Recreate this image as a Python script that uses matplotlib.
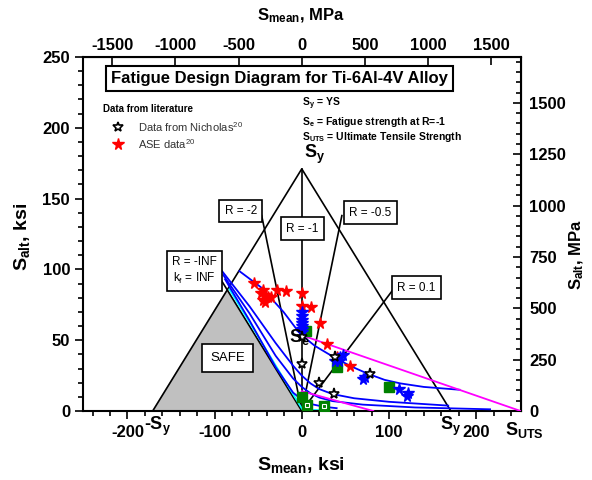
import matplotlib.pyplot as plt
from matplotlib.ticker import MultipleLocator

plt.rcParams['font.family'] = ['Liberation Sans', 'DejaVu Sans']
plt.rcParams['mathtext.fontset'] = 'custom'
plt.rcParams['mathtext.rm'] = 'Liberation Sans'
plt.rcParams['mathtext.bf'] = 'Liberation Sans:bold'
plt.rcParams['mathtext.it'] = 'Liberation Sans:italic'
plt.rcParams['axes.unicode_minus'] = False

KSI_TO_MPA = 6.894757

# material values (ksi)
S_Y = 171
S_UTS = 251
S_E = 53.5

# ASE data (red stars)
ase_mean = [-54.4, -47, -44.7, -42.9, -44, -42, -39, -35.2, -28.7, -18, 0, 0, 10.3, 21, 28.7, 40.8, 55.4]
ase_alt = [90.4, 83, 85.2, 82.2, 78.7, 77, 80.5, 80.5, 85.7, 84.7, 83.3, 74.4, 73.5, 61.8, 47, 38.2, 31.7]

# blue stars
blue_mean = [0, 0, 0, 0, 0, 0, 0, 38.2, 43.9, 47.7, 43.1, 72.6, 70.6, 112, 122.2, 121.1]
blue_alt = [70, 67, 64, 62, 60, 58, 56, 35.5, 38.2, 39.4, 35.4, 23.7, 22.3, 15.3, 12.5, 10.6]

# Nicholas data (open black stars)
nich_mean = [0, 0, 20.2, 37.2, 38.2, 78.3]
nich_alt = [52, 33.1, 19.5, 11.9, 38.2, 26.1]

# green squares
green_mean = [4.9, 40.1, 100.5, 0]
green_alt = [56.5, 31.2, 16.7, 10]
green_open_mean = [6.5, 25.6]
green_open_alt = [4.2, 3.5]

# blue curves
curve_a_mean = [-71.6, -46, -21, -5, 0, 15, 30, 40, 55, 75, 95, 113, 140, 181]
curve_a_alt = [98.8, 87, 70, 57, 53.5, 46, 40.5, 37, 32, 26.5, 22, 19.5, 17, 15]
curve_b_mean = [-91.7, -60, -30, -10, 0, 10, 20, 35, 60, 100, 168]
curve_b_alt = [99, 74, 48, 32, 25, 19.5, 15.5, 12, 9, 6.5, 3.8]
curve_c_mean = [-90, -60, -30, -10, 0, 10, 20, 35, 70, 130, 216]
curve_c_alt = [96, 69, 39, 23, 17, 12.5, 9.5, 7, 4.5, 2.5, 1.2]
curve_d_mean = [-88, -60, -30, -10, 0, 10, 25, 40]
curve_d_alt = [93, 64, 31, 13, 8, 5, 3, 2]

# magenta Goodman lines
goodman_hi_mean = [0, S_UTS]
goodman_hi_alt = [S_E, 0]
goodman_lo_mean = [0, 82]
goodman_lo_alt = [14, 0]

# cyan line
cyan_mean = [-83, 1, 32]
cyan_alt = [86, 0.8, 0.6]

fig = plt.figure(figsize=(5.92, 4.8), dpi=100)
ax = fig.add_axes([0.1394, 0.14375, 0.7407, 0.7375])
ax.set_xlim(-251.5, 251.5)
ax.set_ylim(0, 250)

# safe region
ax.fill([-S_Y, -S_Y / 2, 0], [0, S_Y / 2, 0], color='#c0c0c0', zorder=1)

# yield triangle and R lines
ax.plot([-S_Y, 0, S_Y], [0, S_Y, 0], color='black', lw=1.2, zorder=2)
ax.plot([0, 0], [0, S_Y], color='black', lw=1.2, zorder=2)
ax.plot([0, -46], [0, 138], color='black', lw=1.2, zorder=2)
ax.plot([0, 46], [0, 138], color='black', lw=1.2, zorder=2)
ax.plot([0, 108], [0, 88.4], color='black', lw=1.2, zorder=2)
ax.plot([0, -95], [0, 95], color='black', lw=1.2, zorder=2)
ax.plot(cyan_mean, cyan_alt, color='cyan', lw=1.3, zorder=2)

for xs, ys in [(curve_a_mean, curve_a_alt), (curve_b_mean, curve_b_alt),
               (curve_c_mean, curve_c_alt), (curve_d_mean, curve_d_alt)]:
    ax.plot(xs, ys, color='#0000ff', lw=1.3, zorder=3)
ax.plot(goodman_hi_mean, goodman_hi_alt, color='#ff00ff', lw=1.3, zorder=3)
ax.plot(goodman_lo_mean, goodman_lo_alt, color='#ff00ff', lw=1.3, zorder=3)

# data points
ax.plot(green_mean, green_alt, 's', color='#008000', ms=6.5, zorder=4)
ax.plot(green_open_mean, green_open_alt, 's', color='#008000', ms=6.5, zorder=4)
ax.plot(green_open_mean, green_open_alt, 's', mfc='none', mec='white', ms=3.2, mew=0.8, zorder=4)
ax.plot(ase_mean, ase_alt, '*', color='red', ms=8.5, zorder=5)
ax.plot(blue_mean, blue_alt, '*', color='#0000ff', ms=8.5, zorder=5)
ax.plot(nich_mean, nich_alt, '*', mfc='white', mec='black', mew=1.2, ms=8, zorder=6)

# labels in the plot
box = dict(boxstyle='square,pad=0.45', fc='white', ec='black', lw=1.2)
ax.text(-26, 234.9, 'Fatigue Design Diagram for Ti-6Al-4V Alloy', ha='center', va='center',
        fontsize=12, fontweight='bold', bbox=dict(boxstyle='square,pad=0.3', fc='white', ec='black', lw=1.5), zorder=7)
ax.text(-69.8, 141.3, 'R = -2', ha='center', va='center', fontsize=8.5, bbox=box, zorder=7)
ax.text(0.5, 128.7, 'R = -1', ha='center', va='center', fontsize=8.5, bbox=box, zorder=7)
ax.text(78.9, 140.1, 'R = -0.5', ha='center', va='center', fontsize=8.5, bbox=box, zorder=7)
ax.text(131.4, 87, 'R = 0.1', ha='center', va='center', fontsize=8.5, bbox=box, zorder=7)
ax.text(-123, 99, 'R = -INF\nk$_\\mathrm{f}$ = INF', ha='center', va='center', fontsize=8.5,
        linespacing=1.3, bbox=box, zorder=7)
ax.text(-85.3, 37.7, 'SAFE', ha='center', va='center', fontsize=9.5,
        bbox=dict(boxstyle='square,pad=0.6', fc='white', ec='black', lw=1.2), zorder=7)
ax.text(3, S_Y + 2, r'$\mathbf{S_y}$', ha='left', va='bottom', fontsize=13, zorder=7)
ax.text(-3, 52, r'$\mathbf{S_e}$', ha='center', va='center', fontsize=13, zorder=7)

# legend-like text
ax.text(-228, 213.4, 'Data from literature', ha='left', va='center', fontsize=7, fontweight='bold')
ax.plot([-210.6], [200.7], '*', mfc='white', mec='black', mew=1.2, ms=7.5)
ax.plot([-210.6], [188.7], '*', color='red', ms=8.5)
ax.text(-187.7, 200.7, 'Data from Nicholas$^{20}$', ha='left', va='center', fontsize=8, color='#333333')
ax.text(-187.7, 188.7, 'ASE data$^{20}$', ha='left', va='center', fontsize=8, color='#333333')
ax.text(0.3, 216.9, r'$\mathbf{S_y}$ = YS', ha='left', va='center', fontsize=7.5, fontweight='bold')
ax.text(0.3, 204.2, r'$\mathbf{S_e}$ = Fatigue strength at R=-1', ha='left', va='center', fontsize=7.5, fontweight='bold')
ax.text(0.3, 193.7, r'$\mathbf{S_{UTS}}$ = Ultimate Tensile Strength', ha='left', va='center', fontsize=7.5, fontweight='bold')

# axis-point labels below x axis
ax.text(-165, -3, r'-$\mathbf{S_y}$', ha='center', va='top', fontsize=13, fontweight='bold', clip_on=False)
ax.text(S_Y, -3, r'$\mathbf{S_y}$', ha='center', va='top', fontsize=13, clip_on=False)
ax.text(S_UTS + 4, -6.5, r'$\mathbf{S_{UTS}}$', ha='center', va='top', fontsize=13, clip_on=False)

# ticks
ax.set_xticks([-200, -100, 0, 100, 200])
ax.xaxis.set_minor_locator(MultipleLocator(20))
ax.set_yticks([0, 50, 100, 150, 200, 250])
ax.yaxis.set_minor_locator(MultipleLocator(10))
ax.tick_params(which='both', direction='out', width=1.2, labelsize=12, top=False, right=False)
ax.tick_params(which='major', length=6)
ax.tick_params(which='minor', length=3.5)
ax.tick_params(axis='x', pad=4)
ax.tick_params(axis='y', pad=3)
for lbl in ax.get_xticklabels() + ax.get_yticklabels():
    lbl.set_fontweight('bold')
for sp in ax.spines.values():
    sp.set_linewidth(1.5)

secx = ax.secondary_xaxis('top', functions=(lambda v: v * KSI_TO_MPA, lambda v: v / KSI_TO_MPA))
secx.set_xticks([-1500, -1000, -500, 0, 500, 1000, 1500])
secx.tick_params(direction='in', length=6, width=1.2, labelsize=12, pad=3)
for lbl in secx.get_xticklabels():
    lbl.set_fontweight('bold')

secy = ax.secondary_yaxis('right', functions=(lambda v: v * KSI_TO_MPA, lambda v: v / KSI_TO_MPA))
secy.set_yticks([0, 250, 500, 750, 1000, 1250, 1500])
secy.yaxis.set_minor_locator(MultipleLocator(50))
secy.tick_params(which='both', direction='in', width=1.2, labelsize=12, pad=6)
secy.tick_params(which='major', length=6)
secy.tick_params(which='minor', length=3.5)
for lbl in secy.get_yticklabels():
    lbl.set_fontweight('bold')

# axis titles
fig.text(301 / 592, 1 - 465 / 480, r'$\mathbf{S_{mean}}$, ksi', ha='center', va='center', fontsize=14, fontweight='bold')
fig.text(301 / 592, 1 - 16 / 480, r'$\mathbf{S_{mean}}$, MPa', ha='center', va='center', fontsize=12, fontweight='bold')
fig.text(22 / 592, 1 - 237 / 480, r'$\mathbf{S_{alt}}$, ksi', ha='center', va='center', rotation=90, fontsize=14, fontweight='bold')
fig.text(577 / 592, 1 - 255 / 480, r'$\mathbf{S_{alt}}$, MPa', ha='center', va='center', rotation=90, fontsize=12, fontweight='bold')

fig.savefig('out.png', dpi=100)
